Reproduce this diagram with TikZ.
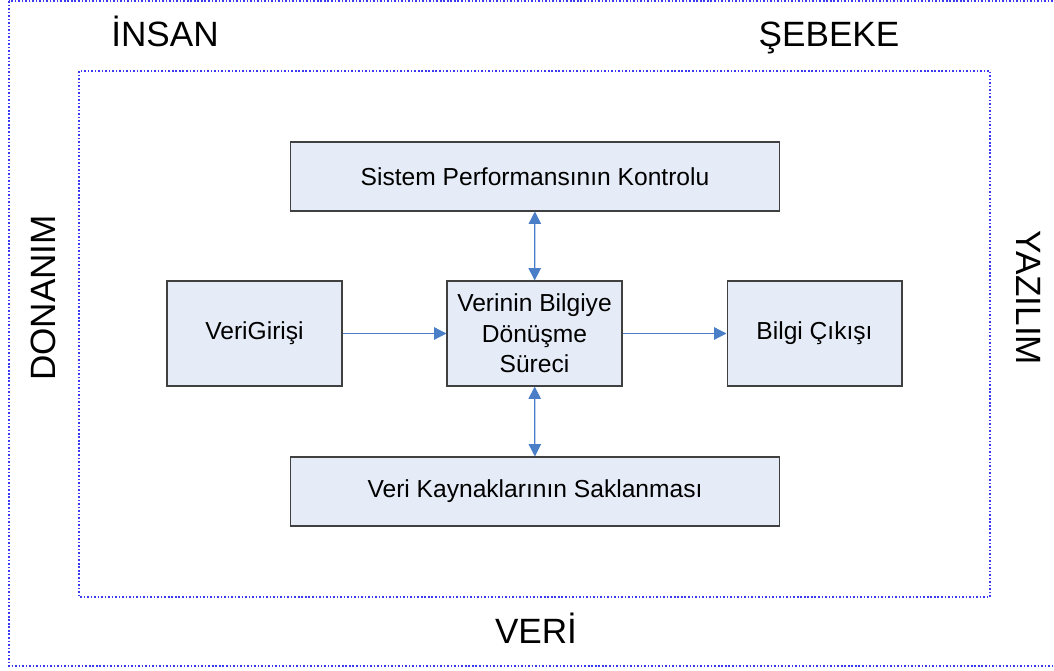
\documentclass[tikz,border=0pt]{standalone}
\usepackage{fontspec}
\setmainfont{Liberation Sans}
\usetikzlibrary{arrows.meta}
\definecolor{boxfill}{HTML}{E6ECF7}
\definecolor{arrowblue}{HTML}{4A7EC6}
\definecolor{dotblue}{HTML}{3A3AEE}
\tikzset{
 box/.style={draw=black!75,fill=boxfill,line width=0.6pt,align=center,inner sep=0pt,
   font=\fontsize{14}{17.3}\selectfont},
 link/.style={draw=arrowblue,line width=0.7pt,-{Triangle[length=7pt,width=7pt]}},
 dlink/.style={link,{Triangle[length=7pt,width=7pt]}-{Triangle[length=7pt,width=7pt]}},
 frame/.style={draw=dotblue,dash pattern=on 0.9pt off 1.1pt,line width=0.6pt},
 biglabel/.style={font=\fontsize{20}{22}\selectfont,inner sep=0pt}
}
\begin{document}
\begin{tikzpicture}[x=0.02cm,y=-0.02cm]
\useasboundingbox (0,0) rectangle (1054,671);
\begin{scope}
\clip (0,0) rectangle (1054,671);
\draw[frame] (9,1) rectangle (1080,666);
\end{scope}
\draw[frame] (79,71) rectangle (990,597);

% boxes
\node[box,minimum width=9.8cm,minimum height=1.38cm] (kontrol) at (535,176.5) {Sistem Performansının Kontrolu};
\node[box,minimum width=3.5cm,minimum height=2.1cm] (giris) at (254.5,333.5) {VeriGirişi};
\node[box,minimum width=3.5cm,minimum height=2.1cm] (surec) at (534.5,333.5) {Verinin Bilgiye\\Dönüşme\\Süreci};
\node[box,minimum width=3.5cm,minimum height=2.1cm] (cikis) at (814.5,333.5) {Bilgi Çıkışı};
\node[box,minimum width=9.8cm,minimum height=1.38cm] (sakla) at (535,491.5) {Veri Kaynaklarının Saklanması};

% arrows
\draw[link] (giris) -- (surec);
\draw[link] (surec) -- (cikis);
\draw[dlink] (kontrol) -- (surec);
\draw[dlink] (surec) -- (sakla);

% outer labels
\node[biglabel,anchor=base] (insan) at (165,47) {İNSAN};
\node[biglabel,anchor=base] (sebeke) at (829,47) {ŞEBEKE};
\node[biglabel,anchor=base] (veri) at (536,643) {VERİ};
\node[biglabel,anchor=base,rotate=90] (donanim) at (55,298) {DONANIM};
\node[biglabel,anchor=base,rotate=-90] (yazilim) at (1016,298) {YAZILIM};
\end{tikzpicture}
\end{document}
